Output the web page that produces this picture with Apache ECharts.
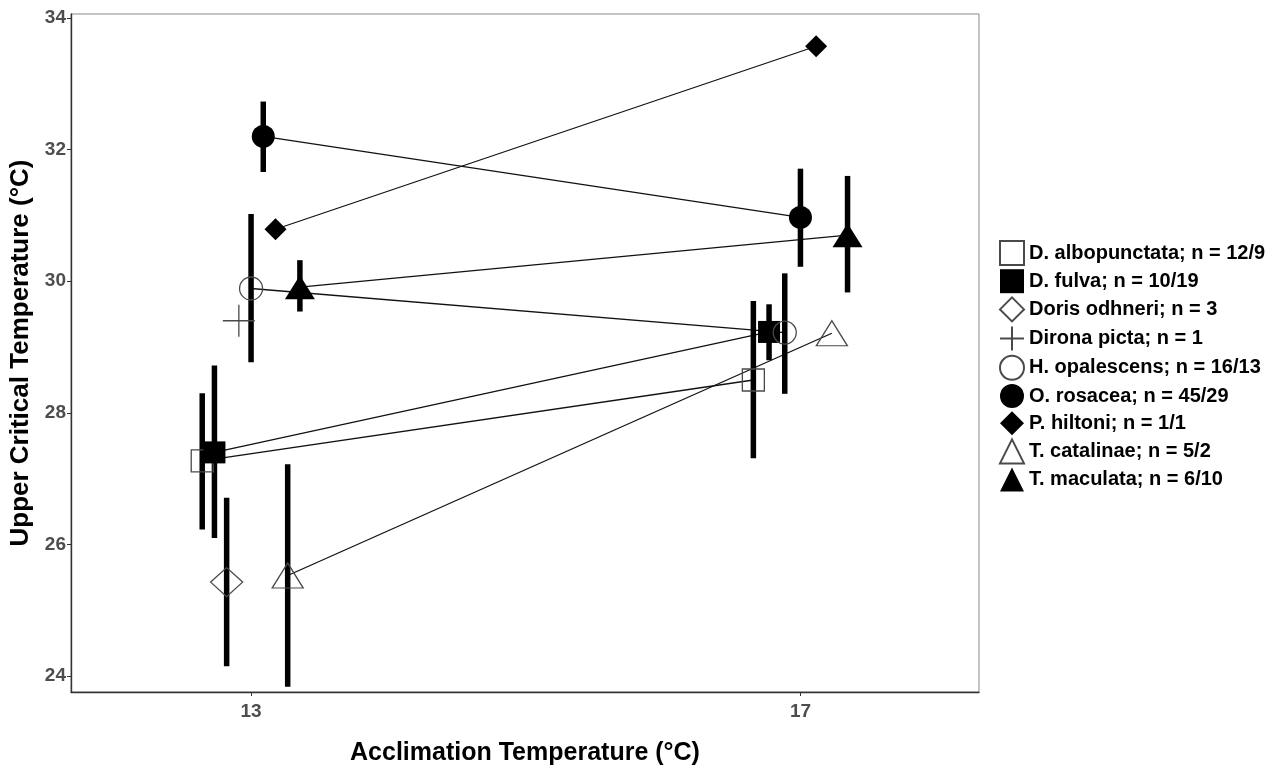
<!DOCTYPE html>
<html>
<head>
<meta charset="utf-8">
<script src="https://cdn.jsdelivr.net/npm/echarts@6/dist/echarts.min.js"></script>
<style>
  html, body { margin: 0; padding: 0; background: #fff; }
  #chart { width: 1266px; height: 768px; }
</style>
</head>
<body>
<div id="chart"></div>
<script>
// ---- data ----
const temps = [13, 17];
const legendLabels = [
  "D. albopunctata; n = 12/9",
  "D. fulva; n = 10/19",
  "Doris odhneri; n = 3",
  "Dirona picta; n = 1",
  "H. opalescens; n = 16/13",
  "O. rosacea; n = 45/29",
  "P. hiltoni; n = 1/1",
  "T. catalinae; n = 5/2",
  "T. maculata; n = 6/10"
];
const mean13 = [27.27, 27.40, 25.43, 29.40, 29.89, 32.20, 30.79, 25.53, 29.91];
const mean17 = [28.50, 29.23, null, null, 29.22, 30.97, 33.57, 29.21, 30.70];
const lo13 = [26.23, 26.10, 24.15, null, 28.77, 31.66, null, 23.84, 29.54];
const hi13 = [28.30, 28.72, 26.71, null, 31.02, 32.73, null, 27.22, 30.32];
const lo17 = [27.31, 28.80, null, null, 28.29, 30.22, null, null, 29.83];
const hi17 = [29.70, 29.65, null, null, 30.12, 31.71, null, null, 31.60];
const xTicks = [13, 17];
const yTicks = [24, 26, 28, 30, 32, 34];

// ---- styles ----
const FONT = "'Liberation Sans', Arial, sans-serif";
const HOLLOW = { color: 'rgba(0,0,0,0)', borderColor: '#4a4a4a', borderWidth: 1.3 };
const FILLED = { color: '#000', borderWidth: 0 };
const PLUS = 'path://M0,16L32,16M16,0L16,32';
const styles = [
  { symbol: 'rect', size: 22, item: HOLLOW },
  { symbol: 'rect', size: 22, item: FILLED },
  { symbol: 'diamond', size: [32, 29], item: HOLLOW },
  { symbol: PLUS, size: 32, item: HOLLOW },
  { symbol: 'circle', size: 23, item: HOLLOW },
  { symbol: 'circle', size: 23, item: FILLED },
  { symbol: 'diamond', size: 22, item: FILLED },
  { symbol: 'triangle', size: [31, 25], item: HOLLOW },
  { symbol: 'triangle', size: [30, 24], item: FILLED }
];

// ---- dodge (like position_dodge, width 0.8) ----
const DODGE = 0.8;
const means = [mean13, mean17];
const los = [lo13, lo17];
const his = [hi13, hi17];
function dodgedX(ti, i) {
  const present = [];
  means[ti].forEach((v, k) => { if (v != null) present.push(k); });
  const n = present.length;
  const rank = present.indexOf(i);
  return temps[ti] + (rank - (n - 1) / 2) * DODGE / n;
}

const series = [];
// connecting lines
legendLabels.forEach((name, i) => {
  const pts = [];
  temps.forEach((t, ti) => {
    if (means[ti][i] != null) pts.push([dodgedX(ti, i), means[ti][i]]);
  });
  if (pts.length > 1) {
    series.push({
      type: 'line', name: name + ' (line)', data: pts, showSymbol: false, silent: true,
      lineStyle: { color: '#111', width: 1.3 }, z: 1
    });
  }
});
// error bars
const errData = [];
legendLabels.forEach((name, i) => {
  temps.forEach((t, ti) => {
    if (means[ti][i] != null && los[ti][i] != null) {
      errData.push([dodgedX(ti, i), los[ti][i], his[ti][i]]);
    }
  });
});
series.push({
  type: 'custom', name: 'err', data: errData, silent: true, z: 2,
  encode: { x: 0, y: [1, 2] },
  renderItem: function (params, api) {
    const p1 = api.coord([api.value(0), api.value(1)]);
    const p2 = api.coord([api.value(0), api.value(2)]);
    return {
      type: 'line',
      shape: { x1: p1[0], y1: p1[1], x2: p2[0], y2: p2[1] },
      style: { stroke: '#000', lineWidth: 5.5, lineCap: 'butt' }
    };
  }
});
// points
legendLabels.forEach((name, i) => {
  const pts = [];
  temps.forEach((t, ti) => {
    if (means[ti][i] != null) pts.push([dodgedX(ti, i), means[ti][i]]);
  });
  series.push({
    type: 'scatter', name: name, data: pts,
    symbol: styles[i].symbol, symbolSize: styles[i].size,
    itemStyle: Object.assign({ opacity: 1 }, styles[i].item), z: 3
  });
});

const chart = echarts.init(document.getElementById('chart'), null, { renderer: 'canvas' });
chart.setOption({
  animation: false,
  backgroundColor: '#fff',
  grid: {
    left: 71, right: 287, top: 14, bottom: 76,
    containLabel: false, outerBoundsMode: 'none',
    show: true, borderColor: '#8a8a8a', borderWidth: 1, backgroundColor: 'rgba(0,0,0,0)'
  },
  legend: {
    data: legendLabels,
    orient: 'vertical',
    left: 994, top: 235,
    itemWidth: 24, itemHeight: 24, itemGap: 3.2,
    textStyle: { fontFamily: FONT, fontSize: 20, lineHeight: 24, fontWeight: 'bold', color: '#000' },
    selectedMode: false
  },
  xAxis: {
    type: 'value', min: 11.689, max: 18.30,
    name: 'Acclimation Temperature (°C)', nameLocation: 'middle', nameGap: 49,
    nameTextStyle: { fontFamily: FONT, fontSize: 25, fontWeight: 'bold', color: '#000' },
    axisLine: { show: true, onZero: false, lineStyle: { color: '#333', width: 1.4 } },
    axisTick: { show: true, length: 4, lineStyle: { color: '#333' }, customValues: xTicks },
    axisLabel: { fontFamily: FONT, fontSize: 19, fontWeight: 'bold', color: '#4d4d4d', margin: 10, customValues: xTicks },
    splitLine: { show: false }
  },
  yAxis: {
    type: 'value', min: 23.76, max: 34.06,
    name: 'Upper Critical Temperature (°C)', nameLocation: 'middle', nameGap: 33, nameRotate: 90,
    nameTextStyle: { fontFamily: FONT, fontSize: 26, fontWeight: 'bold', color: '#000' },
    axisLine: { show: true, onZero: false, lineStyle: { color: '#333', width: 1.4 } },
    axisTick: { show: true, length: 4, lineStyle: { color: '#333' }, customValues: yTicks },
    axisLabel: { fontFamily: FONT, fontSize: 19, fontWeight: 'bold', color: '#4d4d4d', margin: 5, customValues: yTicks },
    splitLine: { show: false }
  },
  series: series
});
</script>
</body>
</html>
